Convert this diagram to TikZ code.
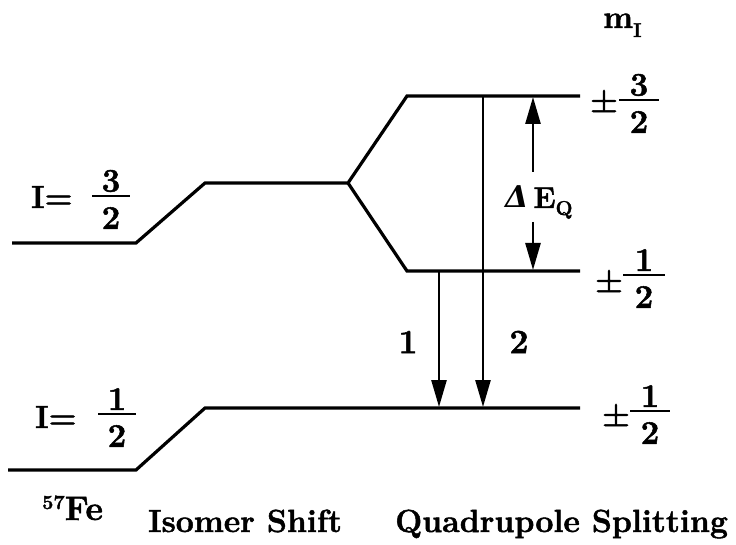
\documentclass[tikz,border=0pt]{standalone}
\usepackage{fontspec}
\setmainfont{Latin Modern Roman}[BoldFeatures={FakeBold=1.5}]
\newfontfamily\dvs{DejaVu Serif}
\usetikzlibrary{arrows.meta}
\tikzset{
  lvl/.style={line width=3.2pt, line join=miter},
  trans/.style={line width=2.6pt, -{Triangle[length=27pt,width=15pt]}},
  big/.style={inner sep=0pt, font=\fontsize{32}{38}\selectfont\bfseries},
  dig/.style={inner sep=0pt, font=\fontsize{33}{36}\selectfont\bfseries},
  fbar/.style={line width=2pt},
}
\newcommand\fracnode[6]{%
  \node[dig] (#1n) at (#2,#3-15) {#4};
  \node[dig] (#1d) at (#2,#3+22) {#5};
  \draw[fbar] (#2-#6,#3) -- (#2+#6,#3);
}
\newcommand\smallb[1]{{\fontsize{20}{22}\selectfont\bfseries #1}}
\begin{document}
\begin{tikzpicture}[x=1pt,y=-1pt]
\useasboundingbox[fill=white] (0,0) rectangle (736,545);
% level coordinates
\coordinate (a0) at (12,243);
\coordinate (a1) at (136,243);
\coordinate (a2) at (205,183);
\coordinate (a3) at (348,183);
\coordinate (t0) at (407,96);
\coordinate (t1) at (580,96);
\coordinate (m0) at (407,271);
\coordinate (m1) at (580,271);
\coordinate (b0) at (8,470);
\coordinate (b1) at (136,470);
\coordinate (b2) at (205,408);
\coordinate (b3) at (580,408);
\draw[lvl] (a0) -- (a1) -- (a2) -- (a3) -- (t0) -- (t1);
\draw[lvl] (a3) -- (m0) -- (m1);
\draw[lvl] (b0) -- (b1) -- (b2) -- (b3);
% transitions
\coordinate (r1s) at (439,271);
\coordinate (r1e) at (439,407);
\coordinate (r2s) at (483,96);
\coordinate (r2e) at (483,407);
\draw[trans] (r1s) -- (r1e);
\draw[trans] (r2s) -- (r2e);
\node[big, font=\fontsize{34}{38}\selectfont\bfseries] (l1) at (408,342) {1};
\node[big, font=\fontsize{34}{38}\selectfont\bfseries] (l2) at (519,342) {2};
% Delta E_Q
\coordinate (qt) at (533,97);
\coordinate (q1) at (533,172);
\coordinate (q2) at (533,222);
\coordinate (qb) at (533,270);
\draw[trans] (q1) -- (qt);
\draw[trans] (q2) -- (qb);
\node[inner sep=0pt, anchor=base west, font=\fontsize{30}{34}\selectfont\bfseries] (dq) at (505,208)
  {{\dvs\bfseries\itshape Δ}\,E\raisebox{-7pt}{\fontsize{20}{22}\selectfont\bfseries Q}};
% left labels
\node[big, anchor=base west] (i32) at (31,208) {I=};
\fracnode{f32}{111}{196}{3}{2}{19}
\node[big, anchor=base west] (i12) at (35,428) {I=};
\fracnode{f12}{117}{414}{1}{2}{19}
\node[big, anchor=base west, font=\fontsize{34}{38}\selectfont\bfseries] (fe) at (42,520) {\raisebox{11pt}{\smallb{57}}Fe};
% right labels
\node[big, anchor=base west] (mi) at (603,28) {m\raisebox{-9pt}{\smallb{I}}};
\node[big] (pm1) at (604,101) {±};
\fracnode{r32}{639}{100}{3}{2}{20}
\node[big] (pm2) at (609,281) {±};
\fracnode{r12}{644}{275}{1}{2}{21}
\node[big] (pm3) at (616,415) {±};
\fracnode{r11}{650}{411}{1}{2}{20}
% bottom captions
\node[big, anchor=base west] (iso) at (148,532) {Isomer Shift};
\node[big, anchor=base west] (qs) at (395,532) {Quadrupole Splitting};
\end{tikzpicture}
\end{document}
